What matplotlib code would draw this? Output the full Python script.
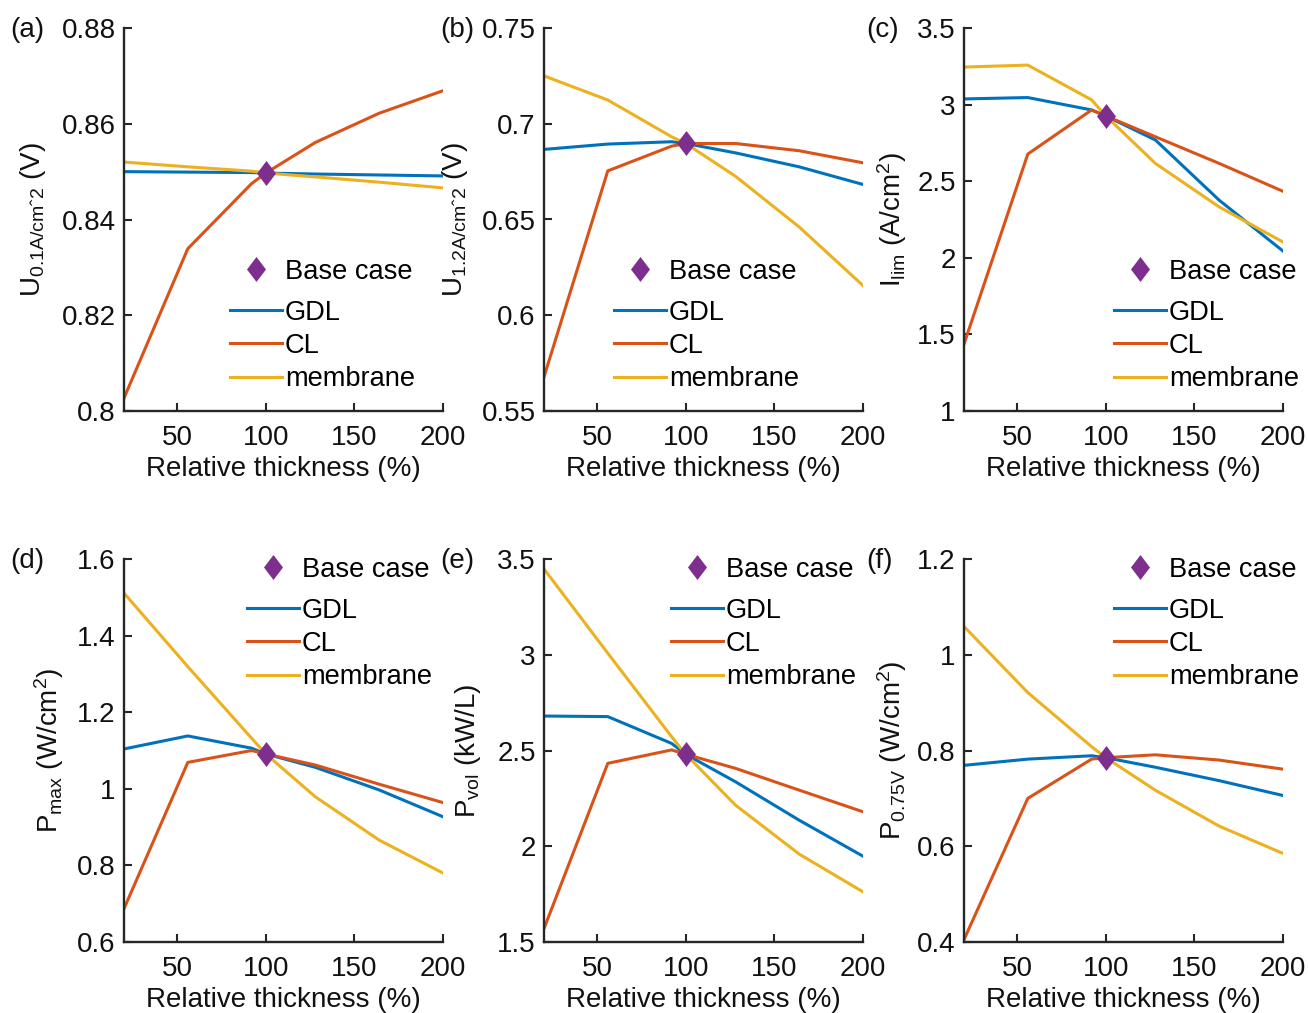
import matplotlib
matplotlib.use('Agg')
import matplotlib.pyplot as plt
from matplotlib.lines import Line2D
from matplotlib.ticker import FuncFormatter

plt.rcParams['font.family'] = ['Liberation Sans', 'DejaVu Sans']
plt.rcParams['mathtext.default'] = 'regular'

# relative thickness (%)
x_rel = [20, 56, 92, 100, 128, 164, 200]
base_x = 100

# (a) voltage at 0.1 A/cm2
a_gdl = [0.8500, 0.8499, 0.8498, 0.8497, 0.8495, 0.8493, 0.8491]
a_cl = [0.8027, 0.8339, 0.8475, 0.8497, 0.8561, 0.8622, 0.8669]
a_mem = [0.8520, 0.8510, 0.8501, 0.8497, 0.8489, 0.8478, 0.8466]
a_base = 0.8497

# (b) voltage at 1.2 A/cm2
b_gdl = [0.6866, 0.6894, 0.6906, 0.6897, 0.6848, 0.6775, 0.6683]
b_cl = [0.5678, 0.6754, 0.6883, 0.6897, 0.6897, 0.6859, 0.6796]
b_mem = [0.7250, 0.7124, 0.6932, 0.6897, 0.6726, 0.6461, 0.6155]
b_base = 0.6897

# (c) limiting current density
c_gdl = [3.037, 3.046, 2.965, 2.926, 2.769, 2.376, 2.044]
c_cl = [1.437, 2.677, 2.965, 2.926, 2.790, 2.616, 2.434]
c_mem = [3.245, 3.258, 3.031, 2.926, 2.616, 2.332, 2.103]
c_base = 2.926

# (d) max power density
d_gdl = [1.104, 1.138, 1.106, 1.091, 1.056, 0.997, 0.927]
d_cl = [0.687, 1.069, 1.100, 1.091, 1.062, 1.012, 0.964]
d_mem = [1.511, 1.319, 1.132, 1.091, 0.979, 0.866, 0.780]
d_base = 1.091

# (e) volumetric power
e_gdl = [2.680, 2.677, 2.537, 2.480, 2.337, 2.136, 1.948]
e_cl = [1.570, 2.433, 2.503, 2.480, 2.407, 2.293, 2.180]
e_mem = [3.448, 3.008, 2.572, 2.480, 2.215, 1.959, 1.762]
e_base = 2.480

# (f) power density at 0.75 V
f_gdl = [0.769, 0.782, 0.789, 0.785, 0.765, 0.737, 0.706]
f_cl = [0.405, 0.700, 0.782, 0.785, 0.791, 0.780, 0.761]
f_mem = [1.059, 0.921, 0.808, 0.785, 0.717, 0.642, 0.585]
f_base = 0.785

col_gdl = '#0072BD'
col_cl = '#D95319'
col_mem = '#EDB120'
col_base = '#7E2F8E'
axcol = '#262626'
txtcol = '#111111'

# diamond a bit wider than matplotlib's thin diamond
diamond = [(0, 1), (0.76, 0), (0, -1), (-0.76, 0), (0, 1)]

panels = [
    ('(a)', a_gdl, a_cl, a_mem, a_base, (0.8, 0.88), [0.8, 0.82, 0.84, 0.86, 0.88],
     'U$_{0.1A/cm\u02c62}$ (V)'),
    ('(b)', b_gdl, b_cl, b_mem, b_base, (0.55, 0.75), [0.55, 0.6, 0.65, 0.7, 0.75],
     'U$_{1.2A/cm\u02c62}$ (V)'),
    ('(c)', c_gdl, c_cl, c_mem, c_base, (1, 3.5), [1, 1.5, 2, 2.5, 3, 3.5],
     r'I$_{lim}$ (A/cm$^{2}$)'),
    ('(d)', d_gdl, d_cl, d_mem, d_base, (0.6, 1.6), [0.6, 0.8, 1, 1.2, 1.4, 1.6],
     r'P$_{max}$ (W/cm$^{2}$)'),
    ('(e)', e_gdl, e_cl, e_mem, e_base, (1.5, 3.5), [1.5, 2, 2.5, 3, 3.5],
     r'P$_{vol}$ (kW/L)'),
    ('(f)', f_gdl, f_cl, f_mem, f_base, (0.4, 1.2), [0.4, 0.6, 0.8, 1, 1.2],
     r'P$_{0.75V}$ (W/cm$^{2}$)'),
]

# legend placement in figure pixels: handle left, "Base case" row y, middle line row y
leg_px = [(230, 272, 346), (614, 272, 346), (1114, 272, 346),
          (247, 570, 644), (671, 570, 644), (1114, 570, 644)]
ylab_pad = [10, 8, 6, 8, 10, 6]

W, H = 1308, 1013
fig = plt.figure(figsize=(W / 100, H / 100), dpi=100)

lefts = [124, 544, 964]
tops = [28, 559]
aw, ah = 319, 383
tag_x = [10, 440, 866]
fs = 20
leg_fs = 19.6
ms = 18

for i, (tag, g, c, m, base, ylim, yt, ylab) in enumerate(panels):
    row, col = divmod(i, 3)
    l, t = lefts[col], tops[row]
    ax = fig.add_axes([l / W, (H - t - ah) / H, aw / W, ah / H])
    ax.plot(x_rel, g, color=col_gdl, lw=2.2)
    ax.plot(x_rel, c, color=col_cl, lw=2.2)
    ax.plot(x_rel, m, color=col_mem, lw=2.2)
    ax.plot([base_x], [base], ls='none', marker=diamond, color=col_base, ms=ms,
            mew=0, zorder=5)
    ax.set_xlim(20, 200)
    ax.set_ylim(*ylim)
    ax.set_xticks([50, 100, 150, 200])
    ax.set_yticks(yt)
    ax.yaxis.set_major_formatter(FuncFormatter(lambda v, p: '%g' % round(v, 4)))
    for s in ['top', 'right']:
        ax.spines[s].set_visible(False)
    for s in ['left', 'bottom']:
        ax.spines[s].set_color(axcol)
        ax.spines[s].set_linewidth(1.7)
    ax.tick_params(direction='in', length=6, width=1.5, colors=axcol,
                   labelsize=fs, labelcolor=txtcol)
    ax.tick_params(axis='x', pad=10)
    ax.tick_params(axis='y', pad=6)
    ax.set_xlabel('Relative thickness (%)', fontsize=fs, color=txtcol, labelpad=4)
    ax.set_ylabel(ylab, fontsize=fs, color=txtcol, labelpad=ylab_pad[i])

    hx, by, ly = leg_px[i]
    common = dict(loc='center left', bbox_transform=fig.transFigure, frameon=False,
                  fontsize=leg_fs, handlelength=1.9, handletextpad=0.12,
                  labelspacing=0.26, borderpad=0, borderaxespad=0)
    leg1 = ax.legend([Line2D([], [], ls='none', marker=diamond, color=col_base,
                             ms=ms, mew=0)],
                     ['Base case'], bbox_to_anchor=(hx / W, 1 - by / H), **common)
    ax.add_artist(leg1)
    ax.legend([Line2D([], [], color=col_gdl, lw=2.2),
               Line2D([], [], color=col_cl, lw=2.2),
               Line2D([], [], color=col_mem, lw=2.2)],
              ['GDL', 'CL', 'membrane'], bbox_to_anchor=(hx / W, 1 - ly / H), **common)

    fig.text(tag_x[col] / W, 1 - (t + 2) / H, tag, fontsize=fs, ha='left', va='center',
             color=txtcol)

fig.savefig('out.png', dpi=100)
